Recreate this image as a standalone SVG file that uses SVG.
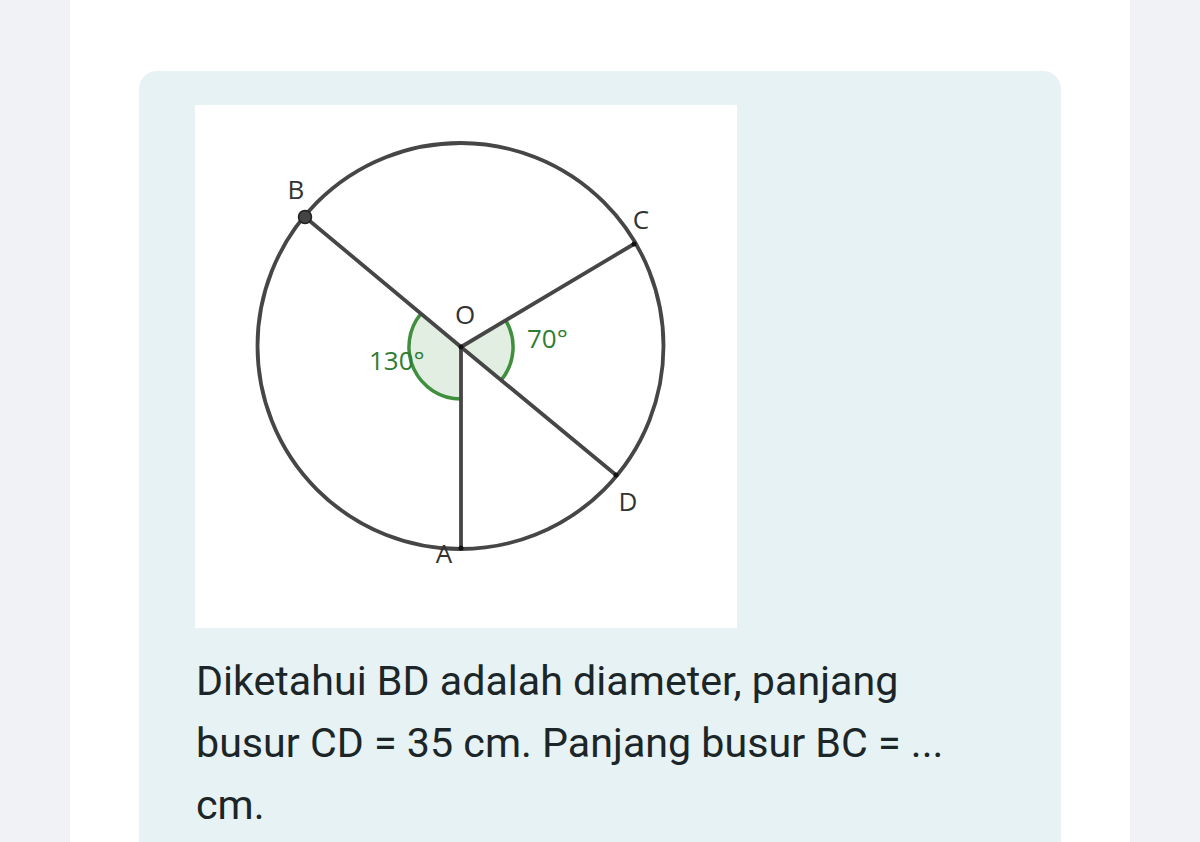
<svg xmlns="http://www.w3.org/2000/svg" width="1200" height="842" viewBox="0 0 1200 842">
<style>
.ln{stroke:#464646;stroke-width:3.8;fill:none;stroke-linecap:round}
.lbl{font-family:"Open Sans","DejaVu Sans",sans-serif;font-size:26px;fill:#333}
.ang{font-family:"Open Sans","DejaVu Sans",sans-serif;font-size:26px;fill:#2f7d32}
.wedge{fill:#e2eee2;stroke:none}
.arc{fill:none;stroke:#3f8f3f;stroke-width:3.5}
.pt{fill:#111}
.txt{font-family:Roboto,"Liberation Sans",sans-serif;font-size:41.2px;fill:#1c2527}
</style>
<rect x="0" y="0" width="1200" height="842" fill="#f0f2f6"/>
<rect x="70" y="0" width="1060" height="842" fill="#ffffff"/>
<rect x="139" y="71" width="922" height="800" rx="18" fill="#e6f2f4"/>
<rect x="195" y="105" width="542" height="523" fill="#ffffff"/>
<g id="angles">
<path class="wedge" d="M461,347 L421,313.7 A52,52 0 0 0 461,399 Z"/>
<path class="arc" d="M421,313.7 A52,52 0 0 0 461,399"/>
<path class="wedge" d="M461,347 L506,320.8 A52,52 0 0 1 501,380.3 Z"/>
<path class="arc" d="M506,320.8 A52,52 0 0 1 501,380.3"/>
</g>
<g id="connectors">
<circle class="ln" cx="460.5" cy="346" r="203"/>
<line class="ln" x1="461" y1="347" x2="305" y2="217"/>
<line class="ln" x1="461" y1="347" x2="616" y2="475"/>
<line class="ln" x1="461" y1="347" x2="634" y2="244"/>
<line class="ln" x1="461" y1="347" x2="461" y2="548"/>
</g>
<g id="node-O"><circle class="pt" cx="461" cy="347" r="2.5"/><text class="lbl" x="465" y="324" text-anchor="middle">O</text></g>
<g id="node-B"><circle cx="305" cy="217" r="6.5" fill="#444" stroke="#222" stroke-width="1.5"/><text class="lbl" x="296" y="199" text-anchor="middle">B</text></g>
<g id="node-C"><circle class="pt" cx="634" cy="244" r="2.5"/><text class="lbl" x="641" y="229" text-anchor="middle">C</text></g>
<g id="node-D"><circle class="pt" cx="616" cy="475" r="2.5"/><text class="lbl" x="628" y="511" text-anchor="middle">D</text></g>
<g id="node-A"><circle class="pt" cx="461" cy="548" r="2.5"/><text class="lbl" x="444" y="563" text-anchor="middle">A</text></g>
<g id="angle-labels">
<text class="ang" x="527" y="348">70°</text>
<text class="ang" x="369" y="370">130°</text>
</g>
<g id="question">
<text class="txt" x="196" y="695">Diketahui BD adalah diameter, panjang</text>
<text class="txt" x="196" y="757">busur CD = 35 cm. Panjang busur BC = ...</text>
<text class="txt" x="196" y="819">cm.</text>
</g>
</svg>
